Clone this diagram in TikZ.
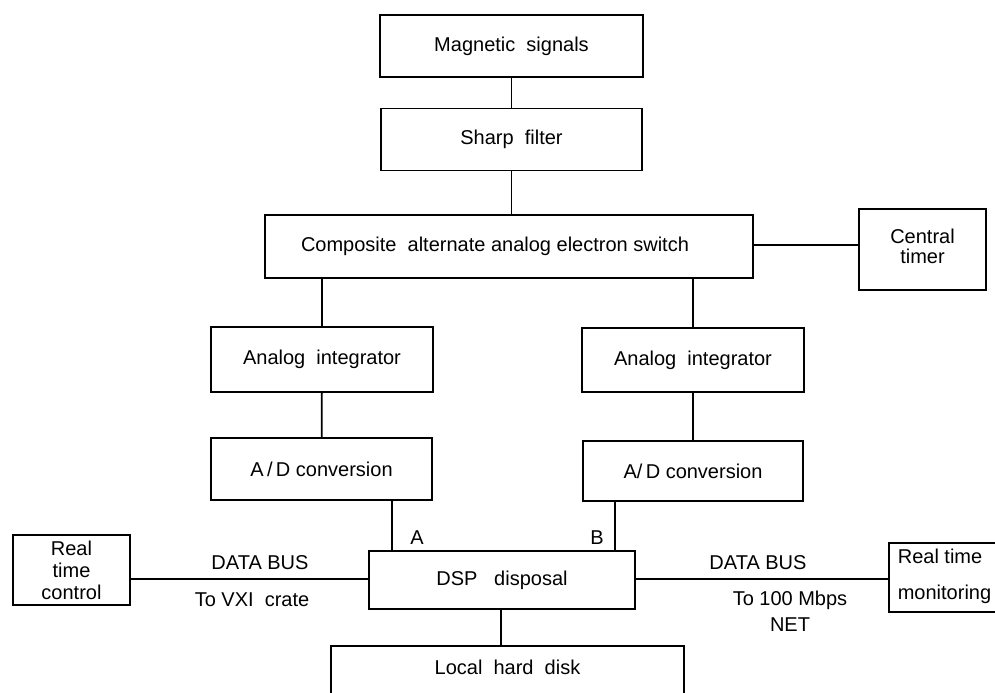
\documentclass[tikz,border=0pt]{standalone}
\usepackage{fontspec}
\setmainfont{Liberation Sans}
\usepackage{tikz}

\begin{document}
\begin{tikzpicture}[x=0.5pt, y=-0.5pt, line width=0.9pt,
      font=\fontsize{10}{11}\selectfont,
      box/.style={draw, align=center, inner sep=0pt},
      lbl/.style={inner sep=1pt, align=center}]
    \useasboundingbox (0,0) rectangle (995,692);
    % signal chain
    \node[box, minimum width=131.5pt, minimum height=31pt] (mag) at (511.5,46) {Magnetic\ \ signals};
    \node[box, minimum width=130.5pt, minimum height=31pt] (filt) at (511.5,139.5) {Sharp\ \ filter};
    \node[box, minimum width=244pt, minimum height=31.5pt] (sw) at (509,246.5)
      {\hspace*{-14pt}Composite\ \ alternate analog electron switch};
    \node[draw, inner sep=0pt, minimum width=63.5pt, minimum height=40.5pt] (timer) at (922.5,249.5)
      {\raisebox{4.5pt}{\begin{tabular}{@{}c@{}}Central\\[-1pt]timer\end{tabular}}};
    % two channels
    \node[box, minimum width=111pt, minimum height=32.5pt] (intA) at (322,359.5) {Analog\ \ integrator};
    \node[box, minimum width=111pt, minimum height=32pt] (intB) at (693,360) {Analog\ \ integrator};
    \node[box, minimum width=110.5pt, minimum height=31pt] (adA) at (321.5,469) {A\,/\,D conversion};
    \node[box, minimum width=110pt, minimum height=30pt] (adB) at (693,471) {A/\,D conversion};
    % processing and outputs
    \node[box, minimum width=133pt, minimum height=29pt] (dsp) at (502,580) {DSP\ \ \ disposal};
    \node[box, minimum width=58.5pt, minimum height=35pt] (rtc) at (71.5,570) {Real\\time\\control};
    \node[draw, inner sep=0pt, minimum width=55.5pt, minimum height=34.5pt] (rtm) at (944.5,577.5)
      {\raisebox{3pt}{\begin{tabular}{@{}l@{}}Real time\\[7pt]monitoring\end{tabular}}};
    \node[box, minimum width=176.5pt, minimum height=27.5pt, anchor=north] (disk) at (507.5,645)
      {\raisebox{6pt}{Local\ \ hard\ \ disk}};
    % bus labels
    \node[lbl] (busL) at (260,563) {DATA BUS};
    \node[lbl] (vxi) at (252,600) {To VXI\ \ crate};
    \node[lbl] (busR) at (758,563) {DATA BUS};
    \node[lbl] (net) at (790,611) {To 100 Mbps\\[2pt]NET};
    \node[lbl] (chA) at (417,538) {A};
    \node[lbl] (chB) at (597,538) {B};
    % connections
    \draw (mag) -- (filt);
    \draw (filt) -- (filt |- sw.north);
    \draw (sw.east |- 0,245) -- (timer.west |- 0,245);
    \draw (sw.south -| intA) -- (intA);
    \draw (sw.south -| intB) -- (intB);
    \draw (intA) -- (adA);
    \draw (intB) -- (adB);
    \draw (adA.south -| 392,0) -- (dsp.north -| 392,0);
    \draw (adB.south -| 615,0) -- (dsp.north -| 615,0);
    \draw (dsp.south -| 501,0) -- (disk.north -| 501,0);
    \draw (rtc.east |- 0,579) -- (dsp.west |- 0,579);
    \draw (dsp.east |- 0,579) -- (rtm.west |- 0,579);
  \end{tikzpicture}
\end{document}
